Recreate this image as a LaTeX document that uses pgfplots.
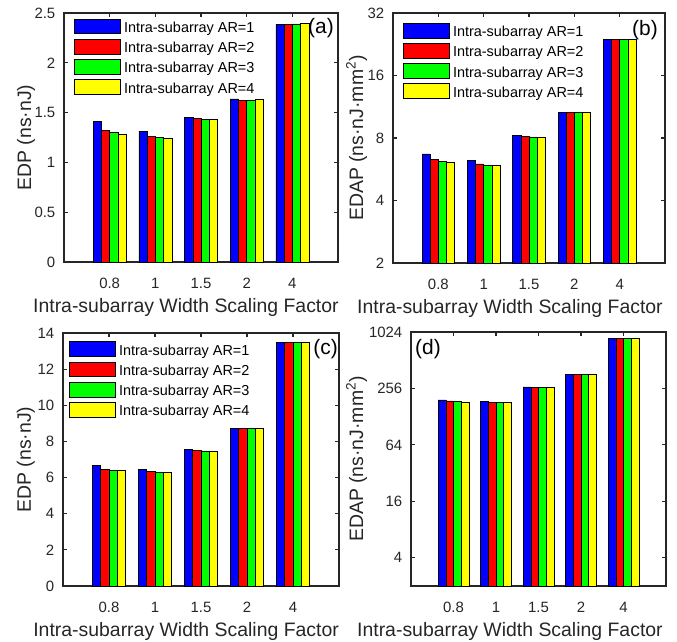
\documentclass[border=0pt]{standalone}
\usepackage{fontspec}
\setmainfont{Liberation Sans}
\usepackage{pgfplots}
\pgfplotsset{compat=1.18}
\definecolor{axc}{gray}{0.15}
\definecolor{cB}{rgb}{0,0,1}
\definecolor{cR}{rgb}{1,0,0}
\definecolor{cG}{rgb}{0,1,0}
\definecolor{cY}{rgb}{1,1,0}
\newcommand\tickfont{\fontsize{15}{18}\selectfont}
\newcommand\labfont{\fontsize{19.5}{23}\selectfont}
\newcommand\legfont{\fontsize{14.5}{17}\selectfont}
\newcommand\letfont{\fontsize{21}{25}\selectfont}
\newcommand\legs{\legend{Intra-subarray AR=1,Intra-subarray AR=2,Intra-subarray AR=3,Intra-subarray AR=4}}
\pgfplotsset{
  bb/.style={fill=#1, draw=black, line width=0.5bp,
    legend image code/.code={\draw[fill=#1, draw=black, line width=0.5bp] (0bp,-6.3bp) rectangle (46bp,8.5bp);}},
  myax/.style={scale only axis, anchor=south west,
    xmin=0, xmax=6, xtick={1,2,3,4,5}, xticklabels={0.8,1,1.5,2,4},
    ybar, bar width=0.18,
    axis line style={line width=1.6bp, draw=axc},
    every tick/.style={line width=1.2bp, draw=axc},
    major tick length=4bp, minor tick length=0pt, tick align=inside,
    ticklabel style={font=\tickfont, text=axc},
    label style={font=\labfont, text=axc},
    xticklabel style={anchor=base, inner sep=0pt, yshift=-26bp},
    yticklabel style={anchor=east, inner sep=0pt, xshift=-8.5bp},
    /pgf/number format/assume math mode=true,
    xlabel={Intra-subarray Width Scaling Factor},
    legend cell align=left,
    legend style={draw=none, fill=none, at={(0,1)}, anchor=north west,
      inner sep=0pt, outer sep=0pt, row sep=4.9bp, column sep=3.5bp,
      font=\legfont,
      nodes={inner sep=0pt, text depth=0pt, text=black, font=\legfont}},
  },
}
\begin{document}
\begin{tikzpicture}
\path[use as bounding box] (0,0) rectangle (677bp,-642bp);
% (a)
\begin{axis}[myax, at={(64bp,-262bp)}, width=274bp, height=249bp,
  ymin=0, ymax=2.5, ytick={0,0.5,1,1.5,2,2.5},
  ylabel={EDP (ns·nJ)},
  ylabel style={at={(axis description cs:-0.120,0.5)}, anchor=base},
  xlabel style={at={(axis description cs:0.445,0)}, anchor=base, yshift=-50bp},
  legend style={xshift=10bp, yshift=-5.5bp}]
\addplot[bb=cB, bar shift=-0.27] coordinates {(1,1.412) (2,1.312) (3,1.452) (4,1.637) (5,2.386)};
\addplot[bb=cR, bar shift=-0.09] coordinates {(1,1.322) (2,1.265) (3,1.439) (4,1.626) (5,2.386)};
\addplot[bb=cG, bar shift=0.09] coordinates {(1,1.298) (2,1.252) (3,1.429) (4,1.626) (5,2.390)};
\addplot[bb=cY, bar shift=0.27] coordinates {(1,1.285) (2,1.245) (3,1.429) (4,1.630) (5,2.396)};
\legs
\node[anchor=east, inner sep=0pt, font=\letfont, xshift=-4bp, yshift=-15bp] at (rel axis cs:1,1) {(a)};
\end{axis}
% (b)
\begin{axis}[myax, at={(393bp,-263bp)}, width=272bp, height=250bp,
  ymode=log, log basis y=2, log origin y=infty,
  ymin=2, ymax=32, ytick={2,4,8,16,32}, yticklabels={2,4,8,16,32},
  ylabel={EDAP (ns·nJ·mm\textsuperscript{2})},
  ylabel style={at={(axis description cs:-0.110,0.5)}, anchor=base},
  xlabel style={at={(axis description cs:0.43,0)}, anchor=base, yshift=-50bp},
  legend style={xshift=10bp, yshift=-9.7bp}]
\addplot[bb=cB, bar shift=-0.27] coordinates {(1,6.70) (2,6.22) (3,8.24) (4,10.67) (5,23.8)};
\addplot[bb=cR, bar shift=-0.09] coordinates {(1,6.30) (2,6.00) (3,8.12) (4,10.6) (5,23.8)};
\addplot[bb=cG, bar shift=0.09] coordinates {(1,6.16) (2,5.94) (3,8.09) (4,10.6) (5,23.85)};
\addplot[bb=cY, bar shift=0.27] coordinates {(1,6.09) (2,5.91) (3,8.09) (4,10.6) (5,23.9)};
\legs
\node[anchor=east, inner sep=0pt, font=\letfont, xshift=-7bp, yshift=-17bp] at (rel axis cs:1,1) {(b)};
\end{axis}
% (c)
\begin{axis}[myax, at={(63bp,-586bp)}, width=276bp, height=253bp,
  ymin=0, ymax=14, ytick={0,2,4,6,8,10,12,14},
  ylabel={EDP (ns·nJ)},
  ylabel style={at={(axis description cs:-0.116,0.5)}, anchor=base},
  xlabel style={at={(axis description cs:0.446,0)}, anchor=base, yshift=-50bp},
  legend style={xshift=6bp, yshift=-8.4bp}]
\addplot[bb=cB, bar shift=-0.27] coordinates {(1,6.686) (2,6.446) (3,7.555) (4,8.737) (5,13.465)};
\addplot[bb=cR, bar shift=-0.09] coordinates {(1,6.465) (2,6.335) (3,7.50) (4,8.72) (5,13.465)};
\addplot[bb=cG, bar shift=0.09] coordinates {(1,6.41) (2,6.30) (3,7.48) (4,8.72) (5,13.48)};
\addplot[bb=cY, bar shift=0.27] coordinates {(1,6.39) (2,6.28) (3,7.48) (4,8.72) (5,13.48)};
\legs
\node[anchor=east, inner sep=0pt, font=\letfont, xshift=-1bp, yshift=-16bp] at (rel axis cs:1,1) {(c)};
\end{axis}
% (d)
\begin{axis}[myax, at={(411bp,-586bp)}, width=255bp, height=254bp,
  ymode=log, log basis y=2, log origin y=infty,
  ymin=2, ymax=1024, ytick={4,16,64,256,1024}, yticklabels={4,16,64,256,1024},
  ylabel={EDAP (ns·nJ·mm\textsuperscript{2})},
  ylabel style={at={(axis description cs:-0.188,0.5)}, anchor=base},
  xlabel style={at={(axis description cs:0.388,0)}, anchor=base, yshift=-50bp}]
\addplot[bb=cB, bar shift=-0.27] coordinates {(1,193.5) (2,187.2) (3,266) (4,363.5) (5,880)};
\addplot[bb=cR, bar shift=-0.09] coordinates {(1,188.7) (2,182.6) (3,264) (4,362) (5,880)};
\addplot[bb=cG, bar shift=0.09] coordinates {(1,185.7) (2,182.6) (3,264) (4,362) (5,880)};
\addplot[bb=cY, bar shift=0.27] coordinates {(1,184.2) (2,181) (3,264) (4,362) (5,880)};
\node[anchor=west, inner sep=0pt, font=\letfont, xshift=4bp, yshift=-17.5bp] at (rel axis cs:0,1) {(d)};
\end{axis}
\end{tikzpicture}
\end{document}
